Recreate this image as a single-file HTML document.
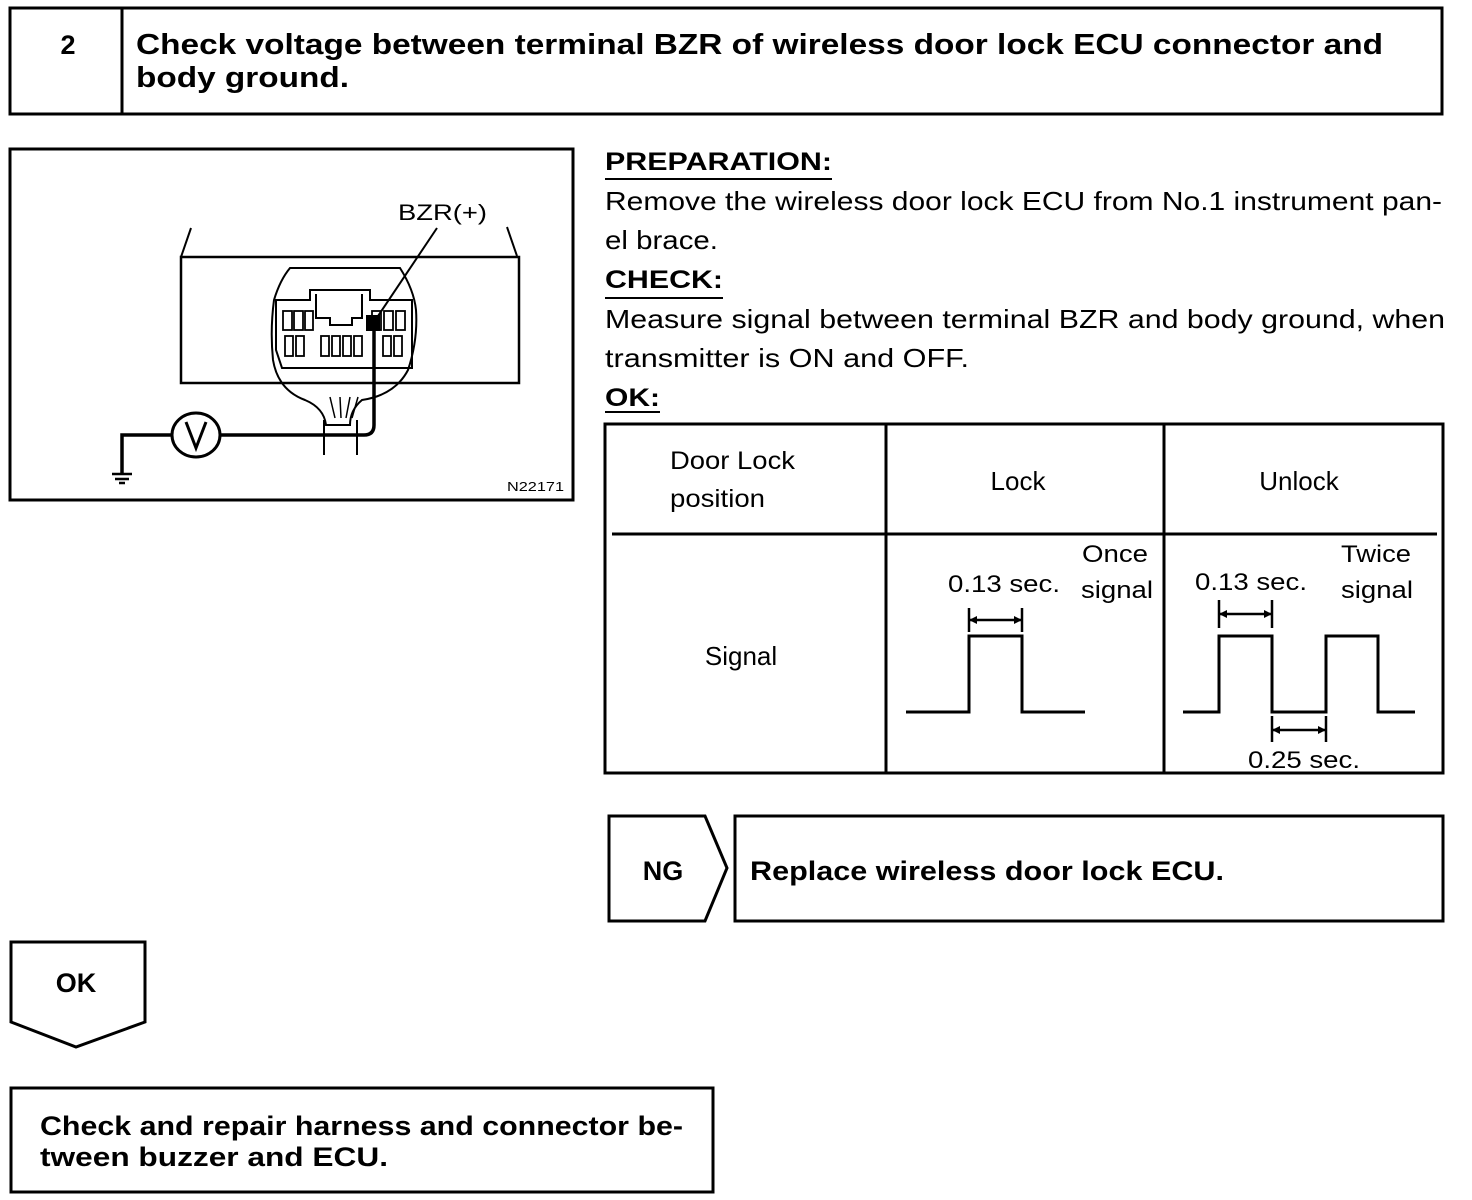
<!DOCTYPE html>
<html><head><meta charset="utf-8"><style>
html,body{margin:0;padding:0;background:#fff;}
svg{display:block;}
text{font-family:"Liberation Sans",Arial,sans-serif;fill:#000;}
.b{font-weight:bold;}
</style></head><body>
<svg width="1472" height="1200" viewBox="0 0 1472 1200" xmlns="http://www.w3.org/2000/svg">
<g fill="none" stroke="#000">
<rect x="10" y="8" width="1432" height="106" stroke-width="3"/>
<line x1="122" y1="8" x2="122" y2="114" stroke-width="3"/>
<rect x="10" y="149" width="563" height="351" stroke-width="3"/>
<rect x="181" y="257" width="338" height="126" stroke-width="2.5"/>
<line x1="191" y1="228" x2="181" y2="257" stroke-width="2"/>
<line x1="507" y1="227" x2="517" y2="256" stroke-width="2"/>
<path d="M290 268 L400 268 Q414 290 416 310 Q418 340 408 370 Q395 395 362 400 Q350 410 350 425 L326 425 Q324 408 305 400 Q278 390 273 360 Q270 330 274 300 Q280 280 290 268 Z" stroke-width="2"/>
<path d="M276 300 L310 300 L310 290 L370 290 L370 300 L412 300 L412 368 L282 368 L276 350 Z" stroke-width="2"/>
<path d="M316 294 L316 318 L330 318 L330 325 L352 325 L352 318 L362 318 L362 294" stroke-width="2"/>
<g stroke-width="1.8">
<rect x="283" y="311" width="9" height="19"/><rect x="294" y="311" width="9" height="19"/><rect x="305" y="311" width="8" height="19"/>
<rect x="372" y="311" width="9" height="19"/><rect x="384" y="311" width="9" height="19"/><rect x="396" y="311" width="9" height="19"/>
<rect x="285" y="336" width="8" height="20"/><rect x="296" y="336" width="8" height="20"/>
<rect x="321" y="336" width="8" height="20"/><rect x="332" y="336" width="8" height="20"/><rect x="343" y="336" width="8" height="20"/><rect x="354" y="336" width="8" height="20"/>
<rect x="383" y="336" width="8" height="20"/><rect x="394" y="336" width="8" height="20"/>
</g>
<path d="M324 420 L324 455 M357 420 L357 455" stroke-width="2"/>
<path d="M330 397 L335 418 M340 397 L341 418 M350 397 L346 418 M358 397 L352 418" stroke-width="1.5"/>
<line x1="437" y1="228" x2="372" y2="325" stroke-width="2"/>
<path d="M374 318 L374 425 Q374 435 364 435 L220 435" stroke-width="3.5"/>
<ellipse cx="196" cy="435" rx="24" ry="22" stroke-width="3"/>
<path d="M186 422 L196 448 L206 422" stroke-width="3"/>
<path d="M172 435 L122 435 L122 474" stroke-width="3.5"/>
<path d="M112 474 L132 474 M115 479 L129 479 M119 483 L125 483" stroke-width="2.5"/>
<rect x="605" y="424" width="838" height="349" stroke-width="3"/>
<line x1="886" y1="424" x2="886" y2="773" stroke-width="3"/>
<line x1="1164" y1="424" x2="1164" y2="773" stroke-width="3"/>
<line x1="612" y1="534" x2="1437" y2="534" stroke-width="3"/>
<g stroke-width="3">
<path d="M906 712 L969 712 L969 636 L1022 636 L1022 712 L1085 712"/>
<path d="M1183 712 L1219 712 L1219 636 L1272 636 L1272 712 L1326 712 L1326 636 L1378 636 L1378 712 L1415 712"/>
</g>
<g stroke-width="2.5">
<path d="M969 608 L969 632 M1022 608 L1022 632 M969 620 L1022 620"/>
<path d="M1219 600 L1219 628 M1272 600 L1272 628 M1219 614 L1272 614"/>
<path d="M1272 716 L1272 742 M1326 716 L1326 742 M1272 730 L1326 730"/>
</g>
<path d="M609 816 L705 816 L727 868 L705 921 L609 921 Z" stroke-width="3"/>
<rect x="735" y="816" width="708" height="105" stroke-width="3"/>
<path d="M11 942 L145 942 L145 1022 L76 1047 L11 1022 Z" stroke-width="3"/>
<rect x="11" y="1088" width="702" height="104" stroke-width="3"/>
<g stroke-width="2"><line x1="605" y1="179" x2="832" y2="179"/><line x1="605" y1="298" x2="723" y2="298"/><line x1="605" y1="412" x2="660" y2="412"/></g>
</g>
<g fill="#000">
<polygon points="969,620 977,616 977,624"/><polygon points="1022,620 1014,616 1014,624"/>
<polygon points="1219,614 1227,610 1227,618"/><polygon points="1272,614 1264,610 1264,618"/>
<polygon points="1272,730 1280,726 1280,734"/><polygon points="1326,730 1318,726 1318,734"/>
<rect x="366" y="315" width="14" height="16"/>
</g>
<text x="68" y="54" class="b" font-size="27" text-anchor="middle">2</text>
<text x="136" y="54" class="b" font-size="29" textLength="1247" lengthAdjust="spacingAndGlyphs">Check voltage between terminal BZR of wireless door lock ECU connector and</text>
<text x="136" y="87" class="b" font-size="29" textLength="213" lengthAdjust="spacingAndGlyphs">body ground.</text>
<text x="398" y="220" font-size="22" textLength="89" lengthAdjust="spacingAndGlyphs">BZR(+)</text>
<text x="507" y="491" font-size="13" textLength="57" lengthAdjust="spacingAndGlyphs">N22171</text>
<text x="605" y="170" class="b" font-size="25" textLength="227" lengthAdjust="spacingAndGlyphs">PREPARATION:</text>
<text x="605" y="210" font-size="26" textLength="837" lengthAdjust="spacingAndGlyphs">Remove the wireless door lock ECU from No.1 instrument pan-</text>
<text x="605" y="249" font-size="26" textLength="113" lengthAdjust="spacingAndGlyphs">el brace.</text>
<text x="605" y="288" class="b" font-size="25" textLength="118" lengthAdjust="spacingAndGlyphs">CHECK:</text>
<text x="605" y="328" font-size="26" textLength="840" lengthAdjust="spacingAndGlyphs">Measure signal between terminal BZR and body ground, when</text>
<text x="605" y="367" font-size="26" textLength="364" lengthAdjust="spacingAndGlyphs">transmitter is ON and OFF.</text>
<text x="605" y="406" class="b" font-size="25" textLength="55" lengthAdjust="spacingAndGlyphs">OK:</text>
<text x="670" y="469" font-size="25" textLength="125" lengthAdjust="spacingAndGlyphs">Door Lock</text>
<text x="670" y="507" font-size="25" textLength="95" lengthAdjust="spacingAndGlyphs">position</text>
<text x="1018" y="490" font-size="26" text-anchor="middle">Lock</text>
<text x="1299" y="490" font-size="26" text-anchor="middle">Unlock</text>
<text x="741" y="665" font-size="26" text-anchor="middle">Signal</text>
<text x="948" y="592" font-size="24" textLength="112" lengthAdjust="spacingAndGlyphs">0.13 sec.</text>
<text x="1082" y="562" font-size="24" textLength="66" lengthAdjust="spacingAndGlyphs">Once</text>
<text x="1081" y="598" font-size="24" textLength="72" lengthAdjust="spacingAndGlyphs">signal</text>
<text x="1195" y="590" font-size="24" textLength="112" lengthAdjust="spacingAndGlyphs">0.13 sec.</text>
<text x="1341" y="562" font-size="24" textLength="70" lengthAdjust="spacingAndGlyphs">Twice</text>
<text x="1341" y="598" font-size="24" textLength="72" lengthAdjust="spacingAndGlyphs">signal</text>
<text x="1248" y="768" font-size="24" textLength="112" lengthAdjust="spacingAndGlyphs">0.25 sec.</text>
<text x="663" y="880" class="b" font-size="27" text-anchor="middle">NG</text>
<text x="750" y="880" class="b" font-size="27" textLength="474" lengthAdjust="spacingAndGlyphs">Replace wireless door lock ECU.</text>
<text x="76" y="992" class="b" font-size="27" text-anchor="middle">OK</text>
<text x="40" y="1135" class="b" font-size="27" textLength="643" lengthAdjust="spacingAndGlyphs">Check and repair harness and connector be-</text>
<text x="40" y="1166" class="b" font-size="27" textLength="348" lengthAdjust="spacingAndGlyphs">tween buzzer and ECU.</text>
</svg>
</body></html>
